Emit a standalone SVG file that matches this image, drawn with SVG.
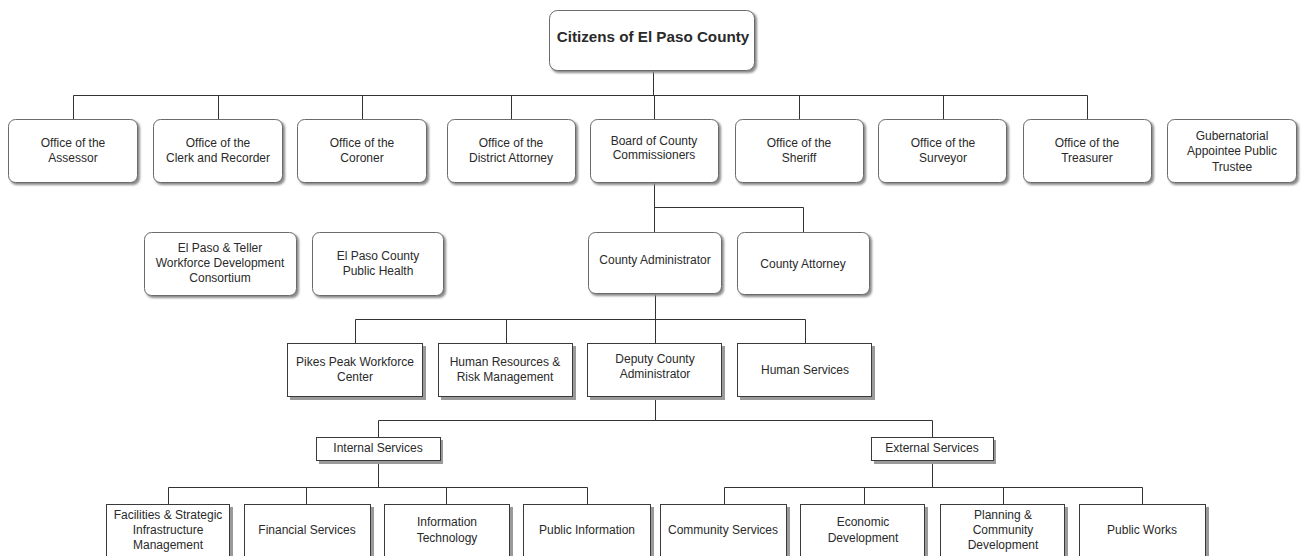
<svg xmlns="http://www.w3.org/2000/svg" width="1301" height="556" viewBox="0 0 1301 556">
  <style>
    text { font-family: "Liberation Sans", Arial, sans-serif; font-size: 12px; fill: #2a2a2a; text-anchor: middle; }
    .title { font-size: 15.2px; font-weight: bold; }
    .rbox { fill: #ffffff; stroke: #6a6a6a; stroke-width: 1; }
    .rshadow { fill: #8a8a8a; filter: url(#soft); }
    .sbox { fill: #ffffff; stroke: #3a3a3a; stroke-width: 1; }
    .sshadow { fill: #9a9a9a; }
    .links path { fill: none; stroke: #333333; stroke-width: 1; }
  </style>
  <defs>
    <filter id="soft" x="-10%" y="-10%" width="120%" height="130%">
      <feGaussianBlur stdDeviation="0.8"/>
    </filter>
  </defs>

  <rect width="1301" height="556" fill="#ffffff"/>

  <!-- connectors -->
  <g class="links">
    <path d="M653.5 71 V95.5 M73.5 95.5 H1087.5"/>
    <path d="M73.5 95.5 V119 M218.5 95.5 V119 M362.5 95.5 V119 M511.5 95.5 V119 M654.5 95.5 V119 M799.5 95.5 V119 M943.5 95.5 V119 M1087.5 95.5 V119"/>
    <path d="M654.5 183 V232 M654.5 207.5 H803.5 V232"/>
    <path d="M655.5 294 V343 M355.5 319.5 H805.5 M355.5 319.5 V343 M506.5 319.5 V343 M805.5 319.5 V343"/>
    <path d="M655.5 396 V420.5 M378.5 420.5 H932.5 M378.5 420.5 V437 M932.5 420.5 V437"/>
    <path d="M378.5 460 V487.5 M168.5 487.5 H587.5 M168.5 487.5 V504 M306.5 487.5 V504 M446.5 487.5 V504 M587.5 487.5 V504"/>
    <path d="M932.5 460 V487.5 M724.5 487.5 H1142.5 M724.5 487.5 V504 M864.5 487.5 V504 M1003.5 487.5 V504 M1142.5 487.5 V504"/>
  </g>

  <!-- top -->
  <g id="citizens">
    <rect class="rshadow" x="551" y="12" width="206" height="61" rx="8"/>
    <rect class="rbox" x="549.5" y="10.5" width="205" height="60" rx="8"/>
    <text class="title" x="653" y="42">Citizens of El Paso County</text>
  </g>

  <!-- elected offices -->
  <g id="assessor">
    <rect class="rshadow" x="10" y="121" width="130" height="64" rx="7"/>
    <rect class="rbox" x="8.5" y="119.5" width="129" height="63" rx="7"/>
    <text x="73" y="147">Office of the</text>
    <text x="73" y="162">Assessor</text>
  </g>
  <g id="clerk">
    <rect class="rshadow" x="155" y="121" width="130" height="64" rx="7"/>
    <rect class="rbox" x="153.5" y="119.5" width="129" height="63" rx="7"/>
    <text x="218" y="147">Office of the</text>
    <text x="218" y="162">Clerk and Recorder</text>
  </g>
  <g id="coroner">
    <rect class="rshadow" x="299" y="121" width="130" height="64" rx="7"/>
    <rect class="rbox" x="297.5" y="119.5" width="129" height="63" rx="7"/>
    <text x="362" y="147">Office of the</text>
    <text x="362" y="162">Coroner</text>
  </g>
  <g id="district-attorney">
    <rect class="rshadow" x="449" y="121" width="129" height="64" rx="7"/>
    <rect class="rbox" x="447.5" y="119.5" width="128" height="63" rx="7"/>
    <text x="511" y="147">Office of the</text>
    <text x="511" y="162">District Attorney</text>
  </g>
  <g id="board">
    <rect class="rshadow" x="592" y="121" width="129" height="64" rx="7"/>
    <rect class="rbox" x="590.5" y="119.5" width="128" height="63" rx="7"/>
    <text x="654" y="145">Board of County</text>
    <text x="654" y="159">Commissioners</text>
  </g>
  <g id="sheriff">
    <rect class="rshadow" x="737" y="121" width="129" height="64" rx="7"/>
    <rect class="rbox" x="735.5" y="119.5" width="128" height="63" rx="7"/>
    <text x="799" y="147">Office of the</text>
    <text x="799" y="162">Sheriff</text>
  </g>
  <g id="surveyor">
    <rect class="rshadow" x="880" y="121" width="129" height="64" rx="7"/>
    <rect class="rbox" x="878.5" y="119.5" width="128" height="63" rx="7"/>
    <text x="943" y="147">Office of the</text>
    <text x="943" y="162">Surveyor</text>
  </g>
  <g id="treasurer">
    <rect class="rshadow" x="1025" y="121" width="129" height="64" rx="7"/>
    <rect class="rbox" x="1023.5" y="119.5" width="128" height="63" rx="7"/>
    <text x="1087" y="147">Office of the</text>
    <text x="1087" y="162">Treasurer</text>
  </g>
  <g id="public-trustee">
    <rect class="rshadow" x="1169" y="121" width="130" height="64" rx="7"/>
    <rect class="rbox" x="1167.5" y="119.5" width="129" height="63" rx="7"/>
    <text x="1232" y="140">Gubernatorial</text>
    <text x="1232" y="155">Appointee Public</text>
    <text x="1232" y="171">Trustee</text>
  </g>

  <!-- third row -->
  <g id="workforce-consortium">
    <rect class="rshadow" x="146" y="234" width="153" height="64" rx="7"/>
    <rect class="rbox" x="144.5" y="232.5" width="152" height="63" rx="7"/>
    <text x="220" y="252">El Paso &amp; Teller</text>
    <text x="220" y="267">Workforce Development</text>
    <text x="220" y="282">Consortium</text>
  </g>
  <g id="public-health">
    <rect class="rshadow" x="314" y="234" width="132" height="64" rx="7"/>
    <rect class="rbox" x="312.5" y="232.5" width="131" height="63" rx="7"/>
    <text x="378" y="260">El Paso County</text>
    <text x="378" y="275">Public Health</text>
  </g>
  <g id="county-administrator">
    <rect class="rshadow" x="590" y="234" width="134" height="62" rx="7"/>
    <rect class="rbox" x="588.5" y="232.5" width="133" height="61" rx="7"/>
    <text x="655" y="264">County Administrator</text>
  </g>
  <g id="county-attorney">
    <rect class="rshadow" x="739" y="234" width="133" height="63" rx="7"/>
    <rect class="rbox" x="737.5" y="232.5" width="132" height="62" rx="7"/>
    <text x="803" y="268">County Attorney</text>
  </g>

  <!-- fourth row -->
  <g id="pikes-peak">
    <rect class="sshadow" x="290" y="346" width="136" height="54"/>
    <rect class="sbox" x="287.5" y="343.5" width="135" height="53"/>
    <text x="355" y="366">Pikes Peak Workforce</text>
    <text x="355" y="381">Center</text>
  </g>
  <g id="human-resources">
    <rect class="sshadow" x="441" y="346" width="135" height="54"/>
    <rect class="sbox" x="438.5" y="343.5" width="134" height="53"/>
    <text x="505" y="366">Human Resources &amp;</text>
    <text x="505" y="381">Risk Management</text>
  </g>
  <g id="deputy-administrator">
    <rect class="sshadow" x="590" y="346" width="135" height="54"/>
    <rect class="sbox" x="587.5" y="343.5" width="134" height="53"/>
    <text x="655" y="363">Deputy County</text>
    <text x="655" y="378">Administrator</text>
  </g>
  <g id="human-services">
    <rect class="sshadow" x="740" y="346" width="135" height="54"/>
    <rect class="sbox" x="737.5" y="343.5" width="134" height="53"/>
    <text x="805" y="374">Human Services</text>
  </g>

  <!-- service groups -->
  <g id="internal-services">
    <rect class="sshadow" x="319" y="440" width="124" height="24"/>
    <rect class="sbox" x="316.5" y="437.5" width="124" height="23"/>
    <text x="378" y="452">Internal Services</text>
  </g>
  <g id="external-services">
    <rect class="sshadow" x="874" y="440" width="122" height="24"/>
    <rect class="sbox" x="871.5" y="437.5" width="122" height="23"/>
    <text x="932" y="452">External Services</text>
  </g>

  <!-- departments -->
  <g id="facilities">
    <rect class="sshadow" x="110" y="507" width="123" height="56"/>
    <rect class="sbox" x="106.5" y="504.5" width="123" height="56"/>
    <text x="168" y="519">Facilities &amp; Strategic</text>
    <text x="168" y="534">Infrastructure</text>
    <text x="168" y="549">Management</text>
  </g>
  <g id="financial-services">
    <rect class="sshadow" x="248" y="507" width="126" height="56"/>
    <rect class="sbox" x="244.5" y="504.5" width="126" height="56"/>
    <text x="307" y="534">Financial Services</text>
  </g>
  <g id="information-technology">
    <rect class="sshadow" x="388" y="507" width="125" height="56"/>
    <rect class="sbox" x="384.5" y="504.5" width="125" height="56"/>
    <text x="447" y="526">Information</text>
    <text x="447" y="542">Technology</text>
  </g>
  <g id="public-information">
    <rect class="sshadow" x="527" y="507" width="127" height="56"/>
    <rect class="sbox" x="523.5" y="504.5" width="127" height="56"/>
    <text x="587" y="534">Public Information</text>
  </g>
  <g id="community-services">
    <rect class="sshadow" x="664" y="507" width="126" height="56"/>
    <rect class="sbox" x="660.5" y="504.5" width="126" height="56"/>
    <text x="723" y="534">Community Services</text>
  </g>
  <g id="economic-development">
    <rect class="sshadow" x="804" y="507" width="124" height="56"/>
    <rect class="sbox" x="800.5" y="504.5" width="124" height="56"/>
    <text x="863" y="526">Economic</text>
    <text x="863" y="542">Development</text>
  </g>
  <g id="planning">
    <rect class="sshadow" x="944" y="507" width="124" height="56"/>
    <rect class="sbox" x="940.5" y="504.5" width="124" height="56"/>
    <text x="1003" y="519">Planning &amp;</text>
    <text x="1003" y="534">Community</text>
    <text x="1003" y="549">Development</text>
  </g>
  <g id="public-works">
    <rect class="sshadow" x="1083" y="507" width="126" height="56"/>
    <rect class="sbox" x="1079.5" y="504.5" width="126" height="56"/>
    <text x="1142" y="534">Public Works</text>
  </g>
</svg>
